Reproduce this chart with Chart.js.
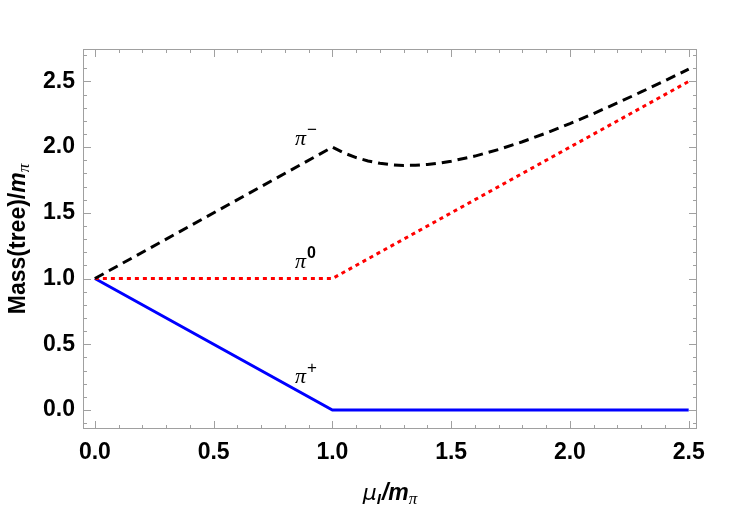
<!DOCTYPE html>
<html>
<head>
<meta charset="utf-8">
<script src="https://cdn.jsdelivr.net/npm/chart.js@4.4.1/dist/chart.umd.min.js"></script>
<style>
  html, body { margin: 0; padding: 0; background: #fff; }
  #wrap { width: 750px; height: 509px; position: relative; }
</style>
</head>
<body>
<div id="wrap"><canvas id="c"></canvas></div>
<script>
// ---- data ----
const piMinusX = [0, 1.0, 1.05, 1.1, 1.15, 1.2, 1.25, 1.3, 1.35, 1.4, 1.45, 1.5, 1.6, 1.7, 1.8, 1.9, 2.0, 2.1, 2.2, 2.3, 2.4, 2.5];
const piMinusY = [1, 2.0, 1.955, 1.921, 1.895, 1.877, 1.866, 1.861, 1.862, 1.868, 1.879, 1.893, 1.932, 1.982, 2.041, 2.107, 2.179, 2.256, 2.337, 2.420, 2.506, 2.594];
const piZeroX  = [0, 1.0, 2.5];
const piZeroY  = [1, 1.0, 2.5];
const piPlusX  = [0, 1.0, 2.5];
const piPlusY  = [1, 0.0, 0.0];
const xTicks = [0, 0.5, 1.0, 1.5, 2.0, 2.5];
const yTicks = [0, 0.5, 1.0, 1.5, 2.0, 2.5];
const curveLabels = [
  { base: 'π', sup: '−', x: 0.855, y: 2.017 },
  { base: 'π', sup: '0', x: 0.855, y: 1.078 },
  { base: 'π', sup: '+', x: 0.855, y: 0.204 }
];

const pts = (xs, ys) => xs.map((x, i) => ({ x: x, y: ys[i] }));

const FRAME = '#a0a0a0';

function drawRuns(ctx, runs, x, y) {
  let cx = x;
  for (const r of runs) {
    ctx.font = r.font;
    ctx.fillText(r.t, cx, y + (r.dy || 0));
    cx += ctx.measureText(r.t).width + (r.gap || 0);
  }
  return cx - x;
}
function runsWidth(ctx, runs) {
  let w = 0;
  for (const r of runs) { ctx.font = r.font; w += ctx.measureText(r.t).width + (r.gap || 0); }
  return w;
}

const framePlugin = {
  id: 'frame',
  afterDraw(chart) {
    const ctx = chart.ctx;
    const a = chart.chartArea;
    const xs = chart.scales.x, ys = chart.scales.y;
    ctx.save();
    // frame
    ctx.strokeStyle = FRAME;
    ctx.lineWidth = 1;
    ctx.strokeRect(a.left + 0.5, a.top + 0.5, a.right - a.left - 1, a.bottom - a.top - 1);
    // ticks (inward)
    ctx.beginPath();
    for (let i = 0; i <= 25; i++) {
      const v = i / 10;
      const px = Math.round(xs.getPixelForValue(v)) + 0.5;
      const len = (i % 5 === 0) ? 8 : 4;
      ctx.moveTo(px, a.bottom); ctx.lineTo(px, a.bottom - len);
      ctx.moveTo(px, a.top); ctx.lineTo(px, a.top + len);
    }
    for (let i = -1; i <= 27; i++) {
      const v = i / 10;
      const py = Math.round(ys.getPixelForValue(v)) + 0.5;
      const len = (i % 5 === 0) ? 8 : 4;
      ctx.moveTo(a.left, py); ctx.lineTo(a.left + len, py);
      ctx.moveTo(a.right, py); ctx.lineTo(a.right - len, py);
    }
    ctx.stroke();

    ctx.fillStyle = '#000';
    ctx.textBaseline = 'alphabetic';
    ctx.textAlign = 'left';

    // x title: μ_I / m_π
    const xRuns = [
      { t: 'μ', font: 'italic 22px "DejaVu Sans"' },
      { t: 'I', font: 'italic bold 15px "Liberation Sans"', dy: 4, gap: 1 },
      { t: '/m', font: 'italic bold 23px "Liberation Sans"' },
      { t: 'π', font: 'italic 17px "Liberation Serif"', dy: 4 }
    ];
    const xw = runsWidth(ctx, xRuns);
    drawRuns(ctx, xRuns, (a.left + a.right) / 2 - xw / 2, 500);

    // y title
    const yRuns = [
      { t: 'Mass(tree)/', font: 'bold 23px "Liberation Sans"' },
      { t: 'm', font: 'italic bold 23px "Liberation Sans"' },
      { t: 'π', font: 'italic 17px "Liberation Serif"', dy: 4 }
    ];
    const yw = runsWidth(ctx, yRuns);
    ctx.save();
    ctx.translate(25, (a.top + a.bottom) / 2);
    ctx.rotate(-Math.PI / 2);
    drawRuns(ctx, yRuns, -yw / 2, 0);
    ctx.restore();

    // curve labels
    for (const L of curveLabels) {
      const px = xs.getPixelForValue(L.x);
      const py = ys.getPixelForValue(L.y);
      const supFont = L.sup === '0' ? 'bold 16px "Liberation Sans"' : '17px "Liberation Sans"';
      drawRuns(ctx, [
        { t: L.base, font: 'italic 22px "Liberation Serif"', gap: 1 },
        { t: L.sup, font: supFont, dy: -10 }
      ], px - 3, py);
    }
    ctx.restore();
  }
};

const tickFont = { family: '"Liberation Sans", Arial, sans-serif', size: 23, weight: 'bold' };

new Chart(document.getElementById('c'), {
  type: 'line',
  data: {
    datasets: [
      {
        label: 'π+',
        data: pts(piPlusX, piPlusY),
        borderColor: '#0000ff',
        borderWidth: 3,
        pointRadius: 0,
        tension: 0,
        order: 3
      },
      {
        label: 'π0',
        data: pts(piZeroX, piZeroY),
        borderColor: '#ff0000',
        borderWidth: 3,
        borderDash: [4, 4],
        pointRadius: 0,
        tension: 0,
        order: 2
      },
      {
        label: 'π-',
        data: pts(piMinusX, piMinusY),
        borderColor: '#000000',
        borderWidth: 3,
        borderDash: [10, 6],
        pointRadius: 0,
        tension: 0,
        order: 1
      }
    ]
  },
  options: {
    responsive: true,
    maintainAspectRatio: false,
    animation: false,
    layout: { padding: { left: 0, top: 49, right: 53, bottom: 0 } },
    plugins: { legend: { display: false }, tooltip: { enabled: false } },
    scales: {
      x: {
        type: 'linear',
        min: -0.05, max: 2.535,
        grid: { display: false, drawTicks: false },
        border: { display: false },
        afterBuildTicks: (s) => { s.ticks = xTicks.map(v => ({ value: v })); },
        afterFit: (s) => { s.height = 80; },
        ticks: { font: tickFont, color: '#000', padding: 10, maxRotation: 0,
                 callback: (v) => Number(v).toFixed(1) }
      },
      y: {
        type: 'linear',
        min: -0.145, max: 2.747,
        grid: { display: false, drawTicks: false },
        border: { display: false },
        afterBuildTicks: (s) => { s.ticks = yTicks.map(v => ({ value: v })); },
        afterFit: (s) => { s.width = 83; },
        ticks: { font: tickFont, color: '#000', padding: 8,
                 callback: (v) => Number(v).toFixed(1) }
      }
    }
  },
  plugins: [framePlugin]
});
</script>
</body>
</html>
